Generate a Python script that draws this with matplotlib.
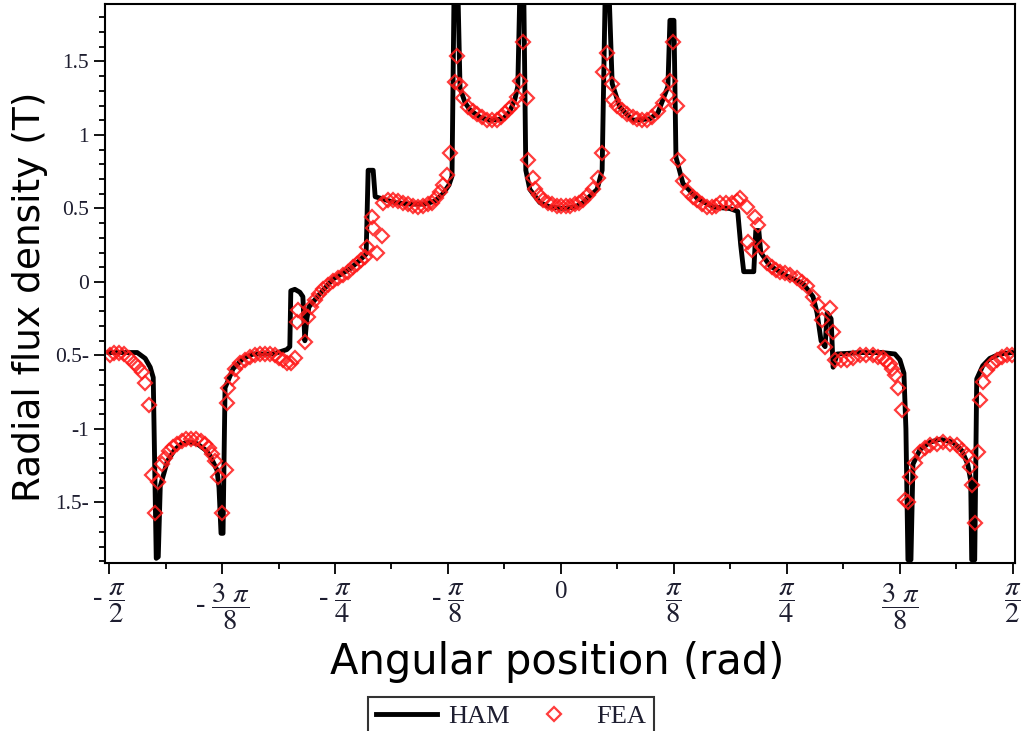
import numpy as np
import matplotlib
matplotlib.use('Agg')
import matplotlib.pyplot as plt

# HAM solution (angle in degrees, radial flux density in T)
ham_deg = [-90.0, -87.8, -84.4, -82.8, -81.8, -81.2, -81.0, -80.6, -80.2, -79.8,
           -78.4, -76.9, -75.5, -73.9, -72.5, -70.9, -69.9, -68.5, -68.1, -67.7,
           -67.3, -66.9, -65.3, -63.3, -61.3, -57.3, -54.6, -54.0, -53.8, -53.0,
           -52.0, -51.4, -51.0, -50.6, -50.2, -48.0, -45.4, -42.0, -40.0, -38.8,
           -38.4, -37.4, -37.0, -36.0, -33.1, -30.1, -27.1, -25.1, -23.5, -22.3,
           -21.7, -21.3, -20.5, -20.1, -19.1, -18.1, -16.1, -14.1, -11.5, -10.2,
           -9.2, -8.6, -8.2, -7.4, -7.0, -6.2, -4.2, -2.2, 0.4, 2.8,
           4.4, 7.2, 8.2, 8.8, 9.6, 10.2, 11.7, 14.3, 17.7, 19.3,
           20.3, 21.3, 21.7, 22.5, 22.9, 24.3, 27.1, 30.3, 33.6, 35.2,
           35.8, 36.4, 38.4, 38.8, 39.4, 39.8, 41.6, 45.0, 48.2, 50.2,
           51.0, 51.8, 52.6, 53.0, 53.8, 54.2, 55.0, 59.9, 63.9, 66.5,
           67.5, 68.3, 68.7, 69.1, 69.7, 70.1, 71.5, 73.5, 75.5, 78.1,
           79.9, 81.0, 81.6, 81.8, 82.4, 82.8, 84.0, 85.4, 87.4, 89.8]
ham_b = [-0.48, -0.48, -0.48, -0.52, -0.58, -0.65, -1.05, -1.88, -1.87, -1.39,
         -1.22, -1.14, -1.10, -1.09, -1.10, -1.14, -1.18, -1.28, -1.40, -1.71,
         -1.71, -0.72, -0.59, -0.52, -0.49, -0.49, -0.46, -0.44, -0.06, -0.05,
         -0.07, -0.10, -0.40, -0.25, -0.17, -0.08, 0.02, 0.09, 0.15, 0.19,
         0.76, 0.76, 0.58, 0.57, 0.54, 0.53, 0.53, 0.55, 0.60, 0.66,
         0.72, 1.95, 1.95, 1.32, 1.22, 1.17, 1.12, 1.10, 1.11, 1.16,
         1.24, 1.33, 1.95, 1.95, 0.76, 0.63, 0.54, 0.51, 0.50, 0.51,
         0.54, 0.63, 0.76, 1.95, 1.95, 1.35, 1.19, 1.10, 1.11, 1.15,
         1.24, 1.33, 1.78, 1.78, 0.85, 0.67, 0.57, 0.51, 0.50, 0.48,
         0.25, 0.07, 0.07, 0.35, 0.35, 0.20, 0.11, 0.04, -0.01, -0.10,
         -0.21, -0.40, -0.44, -0.21, -0.25, -0.58, -0.49, -0.48, -0.48, -0.49,
         -0.53, -0.62, -1.00, -1.89, -1.89, -1.24, -1.14, -1.09, -1.07, -1.09,
         -1.15, -1.24, -1.35, -1.89, -1.89, -0.66, -0.57, -0.52, -0.49, -0.48]

# FEA results
fea_deg = [-89.9, -89.0, -88.0, -87.0, -86.0, -85.0, -84.2, -83.4, -82.8, -82.0,
           -81.4, -80.8, -80.2, -79.4, -78.8, -78.0, -77.2, -76.4, -75.5, -74.6,
           -73.6, -72.6, -71.7, -70.8, -70.0, -69.4, -68.9, -68.3, -67.5, -66.7,
           -66.5, -66.3, -65.5, -64.9, -63.9, -63.0, -62.0, -61.0, -60.0, -59.0,
           -58.0, -57.0, -56.2, -55.4, -54.6, -53.8, -53.0, -52.6, -52.4, -51.0,
           -50.4, -49.8, -49.0, -48.2, -47.4, -46.4, -45.4, -44.4, -43.4, -42.4,
           -41.4, -40.6, -39.8, -39.0, -38.6, -37.6, -37.4, -36.6, -35.6, -35.4,
           -34.4, -33.4, -32.4, -31.4, -30.4, -29.4, -28.4, -27.4, -26.5, -25.7,
           -24.8, -24.1, -23.5, -22.7, -22.1, -21.1, -20.7, -20.1, -19.5, -18.5,
           -17.6, -16.7, -15.7, -14.7, -13.7, -12.7, -11.9, -11.1, -10.4, -9.8,
           -8.8, -8.2, -7.6, -6.8, -6.6, -5.6, -5.2, -4.4, -3.6, -2.6,
           -1.7, -0.8, 0.1, 1.0, 1.8, 2.7, 3.6, 4.4, 5.4, 6.4,
           7.4, 8.2, 8.4, 9.2, 10.2, 10.4, 11.2, 12.1, 13.2, 14.3,
           15.2, 16.2, 17.1, 18.2, 19.3, 20.3, 21.3, 21.7, 22.3, 23.1,
           23.3, 24.3, 25.3, 26.2, 27.1, 28.1, 29.1, 30.0, 30.8, 31.7,
           32.8, 34.0, 35.0, 35.6, 37.0, 37.2, 38.0, 38.6, 39.2, 40.0,
           41.0, 42.0, 42.8, 43.6, 44.6, 45.6, 47.0, 48.0, 49.0, 50.2,
           51.2, 52.0, 52.6, 53.6, 54.2, 54.6, 55.8, 56.9, 58.2, 59.5,
           60.8, 62.1, 63.1, 64.1, 64.8, 65.5, 66.0, 66.5, 67.1, 67.9,
           68.5, 69.1, 69.5, 70.5, 71.5, 72.5, 73.5, 74.8, 76.1, 77.4,
           78.8, 79.8, 80.8, 81.4, 81.8, 82.4, 83.0, 83.4, 84.0, 84.8,
           85.8, 86.8, 87.8, 88.8, 89.9]
fea_b = [-0.50, -0.48, -0.48, -0.49, -0.52, -0.55, -0.58, -0.61, -0.69, -0.84,
         -1.31, -1.57, -1.36, -1.24, -1.20, -1.15, -1.12, -1.10, -1.08, -1.07,
         -1.07, -1.07, -1.08, -1.10, -1.13, -1.17, -1.22, -1.33, -1.57, -1.28,
         -0.82, -0.72, -0.65, -0.59, -0.55, -0.53, -0.51, -0.50, -0.49, -0.49,
         -0.49, -0.50, -0.52, -0.53, -0.55, -0.55, -0.52, -0.27, -0.19, -0.41,
         -0.24, -0.17, -0.12, -0.08, -0.05, -0.02, 0.01, 0.03, 0.05, 0.07,
         0.10, 0.12, 0.15, 0.17, 0.24, 0.44, 0.37, 0.20, 0.31, 0.54,
         0.56, 0.56, 0.55, 0.54, 0.53, 0.52, 0.51, 0.52, 0.53, 0.54,
         0.57, 0.61, 0.66, 0.73, 0.88, 1.36, 1.54, 1.34, 1.25, 1.19,
         1.16, 1.14, 1.12, 1.10, 1.10, 1.10, 1.12, 1.15, 1.18, 1.20,
         1.26, 1.37, 1.63, 1.25, 0.83, 0.71, 0.63, 0.59, 0.56, 0.54,
         0.53, 0.52, 0.52, 0.52, 0.52, 0.53, 0.54, 0.56, 0.59, 0.63,
         0.71, 0.88, 1.43, 1.56, 1.35, 1.24, 1.20, 1.17, 1.14, 1.12,
         1.11, 1.10, 1.10, 1.12, 1.16, 1.22, 1.27, 1.37, 1.63, 1.20,
         0.83, 0.69, 0.61, 0.58, 0.56, 0.53, 0.51, 0.51, 0.52, 0.54,
         0.54, 0.54, 0.55, 0.57, 0.51, 0.27, 0.22, 0.44, 0.39, 0.24,
         0.13, 0.10, 0.08, 0.07, 0.06, 0.05, 0.03, 0.00, -0.03, -0.10,
         -0.16, -0.26, -0.44, -0.18, -0.34, -0.53, -0.53, -0.53, -0.52, -0.50,
         -0.50, -0.50, -0.51, -0.52, -0.54, -0.56, -0.59, -0.63, -0.72, -0.87,
         -1.48, -1.50, -1.33, -1.23, -1.16, -1.13, -1.11, -1.10, -1.09, -1.10,
         -1.11, -1.14, -1.18, -1.26, -1.38, -1.64, -1.16, -0.80, -0.68, -0.60,
         -0.56, -0.53, -0.51, -0.50, -0.50]

x_ticks = [-4, -3, -2, -1, 0, 1, 2, 3, 4]   # multiples of pi/8
x_labels = [r'- $\dfrac{\pi}{2}$', r'- $\dfrac{3\ \pi}{8}$', r'- $\dfrac{\pi}{4}$',
            r'- $\dfrac{\pi}{8}$', '0', r'$\dfrac{\pi}{8}$', r'$\dfrac{\pi}{4}$',
            r'$\dfrac{3\ \pi}{8}$', r'$\dfrac{\pi}{2}$']
y_ticks = [1.5, 1, 0.5, 0, -0.5, -1, -1.5]
y_labels = ['1.5', '1', '0.5', '0', '0.5-', '-1', '1.5-']

plt.rcParams['mathtext.fontset'] = 'stix'
plt.rcParams['font.family'] = ['Liberation Serif', 'DejaVu Serif']

fig = plt.figure(figsize=(10.22, 7.31), dpi=100)
ax = fig.add_axes([0.1027, 0.2298, 0.8904, 0.7647])

ham_line, = ax.plot(np.deg2rad(ham_deg), ham_b, color='black', lw=3.5, label='HAM')
fea_pts, = ax.plot(np.deg2rad(fea_deg), fea_b, ls='none', marker='D', ms=7.5,
                   mfc='none', mec='#ff1a1a', mew=1.6, alpha=0.85, label='FEA')

ax.set_xlim(-1.585, 1.578)
ax.set_ylim(-1.912, 1.891)

ax.set_xticks(np.array(x_ticks) * np.pi / 8)
ax.set_xticklabels(x_labels)
ax.set_xticks(np.arange(-7, 8, 2) * np.pi / 16, minor=True)
ax.set_yticks(y_ticks)
ax.set_yticklabels(y_labels)
ax.set_yticks(np.arange(-19, 19) / 10, minor=True)

label_col = '#1e1e30'
ax.tick_params(which='both', direction='out', top=False, right=False,
               colors='black', labelcolor=label_col, width=1.3)
ax.tick_params(which='major', length=8, labelsize=15.5)
ax.tick_params(axis='x', which='major', pad=5, labelsize=20.5)
ax.tick_params(which='minor', length=4)
# the plain "0" label is smaller than the fractions
ax.xaxis.get_major_ticks()[4].label1.set_fontsize(18)
for s in ax.spines.values():
    s.set_linewidth(1.5)

fig.text(0.545, 0.0944, 'Angular position (rad)', family='DejaVu Sans',
         fontsize=30, ha='center', va='center')
fig.text(0.029, 0.594, 'Radial flux density (T)', family='DejaVu Sans',
         fontsize=27, ha='center', va='center', rotation=90)

leg = fig.legend(handles=[ham_line, fea_pts], loc='upper center',
                 bbox_to_anchor=(0.5, 1 - 697 / 731), ncol=2, numpoints=1,
                 fontsize=19, handlelength=2.3, handletextpad=0.45, columnspacing=0.5,
                 borderpad=0.3, frameon=True, fancybox=False, borderaxespad=0)
leg.get_frame().set_edgecolor('black')
leg.get_frame().set_linewidth(1.5)
for t in leg.get_texts():
    t.set_color(label_col)

fig.savefig('out.png', dpi=100)
